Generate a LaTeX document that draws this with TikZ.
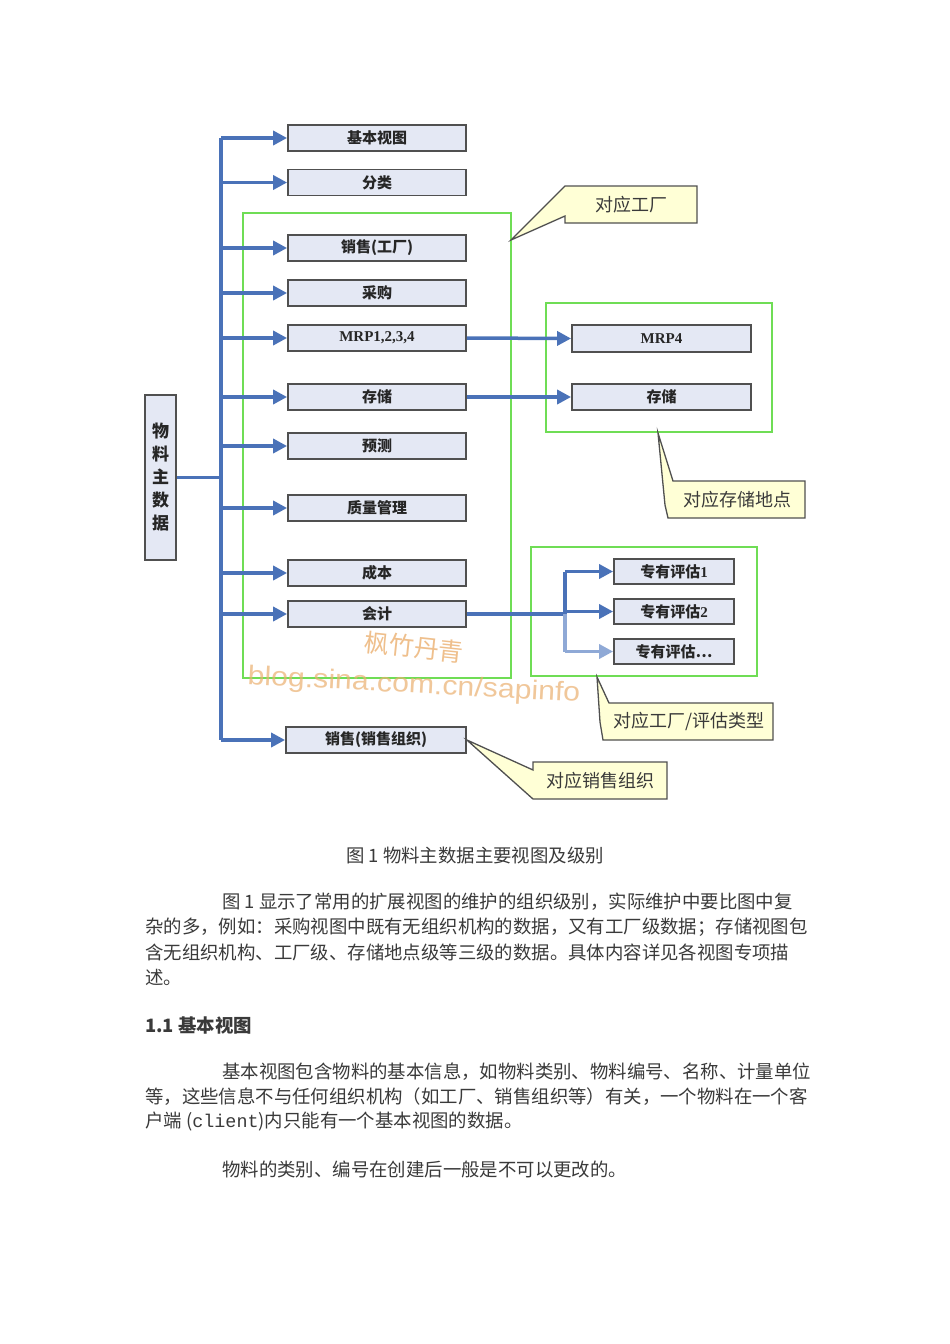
\documentclass[tikz,border=0pt]{standalone}
\usepackage{fontspec}
\setmainfont{Noto Sans CJK SC}
\newfontfamily\latserif{Liberation Serif}
\newfontfamily\monofnt{Liberation Mono}
\newfontfamily\wmfont{Liberation Sans}
\usetikzlibrary{arrows.meta}
\definecolor{lineblue}{HTML}{4A72B8}
\definecolor{lightblue}{HTML}{8FA9D6}
\definecolor{boxfill}{HTML}{E4E8F4}
\definecolor{boxline}{HTML}{505050}
\definecolor{grn}{HTML}{6FDD55}
\definecolor{callfill}{HTML}{FFFFD6}
\definecolor{txt}{HTML}{3A3A3A}
\definecolor{wm}{HTML}{EBB070}
\begin{document}
\begin{tikzpicture}[x=1pt,y=-1pt,
  vbox/.style={draw=boxline,line width=1.8pt,fill=boxfill,minimum width=178pt,minimum height=26pt,inner sep=0pt,font=\fontsize{15}{16}\selectfont\bfseries,text=black!85},
  conn/.style={draw=lineblue,line width=3.5pt},
  arr/.style={draw=lineblue,line width=3.5pt,-{Triangle[length=14pt,width=14pt]}},
  gbox/.style={draw=grn,line width=2.2pt},
  call/.style={draw=boxline,line width=1.3pt,fill=callfill},
  calltext/.style={font=\fontsize{18}{20}\selectfont,text=txt,inner sep=0pt},
  body/.style={font=\fontsize{18.4}{22}\selectfont,text=txt,inner sep=0pt,anchor=west}]
\useasboundingbox[fill=white] (0,0) rectangle (950,1344);

% green frames
\draw[gbox] (243,213) rectangle (511,678);
\draw[gbox] (546,303) rectangle (772,432);
\draw[gbox] (531,547) rectangle (757,676);

% main node
\node[draw=boxline,line width=1.8pt,fill=boxfill,minimum width=31pt,minimum height=165pt,inner sep=0pt,align=center,font=\fontsize{17}{23}\selectfont\bfseries,text=black!85] (main) at (160.5,477.5) {物\\料\\主\\数\\据};

% view boxes
\node[vbox] (b1) at (377,138) {基本视图};
\node[vbox] (b2) at (377,182.5) {分类};
\node[vbox] (b3) at (377,248) {销售(工厂)};
\node[vbox] (b4) at (377,293) {采购};
\node[vbox] (b5) at (377,338) {\latserif MRP1,2,3,4};
\node[vbox] (b6) at (377,397) {存储};
\node[vbox] (b7) at (377,446) {预测};
\node[vbox] (b8) at (377,508) {质量管理};
\node[vbox] (b9) at (377,573) {成本};
\node[vbox] (b10) at (377,614) {会计};
\node[vbox,minimum width=180pt] (b11) at (376,740) {销售(销售组织)};

\node[vbox,minimum width=179pt,minimum height=27pt] (m4) at (661.5,338.5) {\latserif MRP4};
\node[vbox,minimum width=179pt] (s2) at (661.5,397) {存储};

\node[vbox,minimum width=120pt,minimum height=25pt] (e1) at (674,571.5) {专有评估{\latserif 1}};
\node[vbox,minimum width=120pt,minimum height=25pt] (e2) at (674,611.5) {专有评估{\latserif 2}};
\node[vbox,minimum width=120pt,minimum height=25pt] (e3) at (674,651.5) {专有评估…};

% trunk
\coordinate (tr) at (221,0);
\draw[conn] (main.east) -- (tr |- main.east);
\draw[conn] (tr |- b1.west) -- (tr |- b11.west);
\foreach \b in {b1,b2,b3,b4,b5,b6,b7,b8,b9,b10,b11}
  \draw[arr] (tr |- \b.west) -- (\b.west);

% right links
\draw[arr] (b5.east) -- (m4.west);
\draw[arr] (b6.east) -- (s2.west);
\coordinate (br) at (565,0);
\draw[conn] (b10.east) -- (br |- b10.east);
\draw[draw=lightblue,line width=3.5pt] (br |- b10.east) -- (br |- e3.west);
\draw[conn] (br |- b10.east) -- (br |- e1.west);
\draw[arr] (br |- e1.west) -- (e1.west);
\draw[arr] (br |- e2.west) -- (e2.west);
\draw[draw=lightblue,line width=3.5pt,-{Triangle[length=14pt,width=14pt]}] (br |- e3.west) -- (e3.west);

% callouts
\coordinate (t1) at (511,240);
\draw[call] (565,186) -- (697,186) -- (697,223) -- (565,223) -- (565,216) -- (t1) -- cycle;
\node[calltext] (c1) at (631,204.5) {对应工厂};

\coordinate (t2) at (658,433);
\draw[call] (t2) -- (673,481) -- (805,481) -- (805,518) -- (668,518) -- (665,505) -- cycle;
\node[calltext] (c2) at (737,499.5) {对应存储地点};

\coordinate (t3) at (597,677);
\draw[call] (t3) -- (609,703) -- (773,703) -- (773,740) -- (603,740) -- (600,722) -- cycle;
\node[calltext] (c3) at (689,721.5) {对应工厂/评估类型};

\coordinate (t4) at (b11.east);
\draw[call] (533,762) -- (667,762) -- (667,799) -- (533,799) -- (t4) -- (533,770) -- cycle;
\node[calltext] (c4) at (600,780.5) {对应销售组织};

% watermark
\node[text=wm,opacity=0.8,font=\fontsize{25}{26}\selectfont,rotate=-6,inner sep=0pt] (wm1) at (414,647) {枫竹丹青};
\node[text=wm,opacity=0.7,font=\wmfont\fontsize{27}{28}\selectfont,rotate=-3,xscale=1.12,inner sep=0pt] (wm2) at (414,686) {blog.sina.com.cn/sapinfo};

% caption and text
\node[font=\fontsize{18.4}{22}\selectfont,text=txt,inner sep=0pt] (cap) at (475,856) {图 1\ 物料主数据主要视图及级别};

\node[body] (p1) at (222,902) {图 1 显示了常用的扩展视图的维护的组织级别，实际维护中要比图中复};
\node[body] (p2) at (145,927) {杂的多，例如：采购视图中既有无组织机构的数据，又有工厂级数据；存储视图包};
\node[body] (p3) at (145,952) {含无组织机构、工厂级、存储地点级等三级的数据。具体内容详见各视图专项描};
\node[body] (p4) at (145,977) {述。};

\node[body,font=\fontsize{18.4}{22}\selectfont\bfseries] (h1) at (145,1026) {1.1\ 基本视图};

\node[body] (q1) at (222,1072) {基本视图包含物料的基本信息，如物料类别、物料编号、名称、计量单位};
\node[body] (q2) at (145,1097) {等，这些信息不与任何组织机构（如工厂、销售组织等）有关，一个物料在一个客};
\node[body] (q3) at (145,1122) {户端 ({\monofnt client})内只能有一个基本视图的数据。};
\node[body] (q4) at (222,1169) {物料的类别、编号在创建后一般是不可以更改的。};
\end{tikzpicture}
\end{document}
